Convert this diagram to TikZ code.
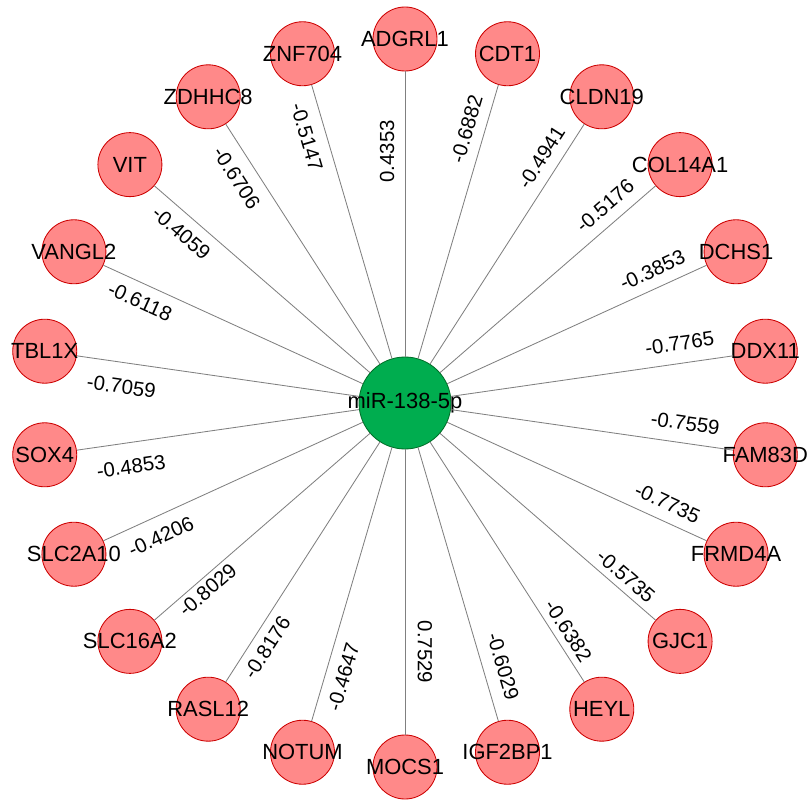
\documentclass[tikz,border=0pt]{standalone}
\usepackage{xcolor}
\usepackage{tikz}
\usepackage{fontspec}
\setmainfont{Liberation Sans}
\usetikzlibrary{shapes.geometric, arrows}
\definecolor{genefill}{RGB}{255, 137, 137}
\definecolor{genedraw}{RGB}{204, 0, 0}
\definecolor{mirfill}{RGB}{0, 173, 79}
\definecolor{mirdraw}{RGB}{0, 110, 40}
\definecolor{linkcolor}{RGB}{128, 128, 128}
\newcommand{\gname}[1]{\makebox[0pt]{#1}}
\tikzstyle{gene} = [circle, minimum size=1.6cm, inner sep=0pt, draw=genedraw, fill=genefill, line width=0.6pt, font=\fontsize{15.6}{18}\selectfont]
\tikzstyle{hub} = [circle, minimum size=2.3cm, inner sep=0pt, draw=mirdraw, fill=mirfill, line width=0.6pt, font=\fontsize{15.6}{18}\selectfont]
\tikzstyle{link} = [draw=linkcolor, line width=0.6pt]
\tikzstyle{wlabel} = [inner sep=0pt, font=\fontsize{14.5}{17}\selectfont]

\begin{document}
\begin{tikzpicture}

\useasboundingbox (-10.125,-9.925) rectangle (10.075,10.075);

% miRNA
\node (mir) [hub] at (0,0) {\gname{miR-138-5p}};

% Cibles (sens horaire)
\node (adgrl1) [gene] at (90:9.1) {\gname{ADGRL1}};
\node (cdt1) [gene] at (73.64:9.1) {\gname{CDT1}};
\node (cldn19) [gene] at (57.27:9.1) {\gname{CLDN19}};
\node (col14a1) [gene] at (40.91:9.1) {\gname{COL14A1}};
\node (dchs1) [gene] at (24.55:9.1) {\gname{DCHS1}};
\node (ddx11) [gene] at (8.18:9.1) {\gname{DDX11}};
\node (fam83d) [gene] at (-8.18:9.1) {\gname{FAM83D}};
\node (frmd4a) [gene] at (-24.55:9.1) {\gname{FRMD4A}};
\node (gjc1) [gene] at (-40.91:9.1) {\gname{GJC1}};
\node (heyl) [gene] at (-57.27:9.1) {\gname{HEYL}};
\node (igf2bp1) [gene] at (-73.64:9.1) {\gname{IGF2BP1}};
\node (mocs1) [gene] at (-90:9.1) {\gname{MOCS1}};
\node (notum) [gene] at (-106.36:9.1) {\gname{NOTUM}};
\node (rasl12) [gene] at (-122.73:9.1) {\gname{RASL12}};
\node (slc16a2) [gene] at (-139.09:9.1) {\gname{SLC16A2}};
\node (slc2a10) [gene] at (-155.45:9.1) {\gname{SLC2A10}};
\node (sox4) [gene] at (-171.82:9.1) {\gname{SOX4}};
\node (tbl1x) [gene] at (171.82:9.1) {\gname{TBL1X}};
\node (vangl2) [gene] at (155.45:9.1) {\gname{VANGL2}};
\node (vit) [gene] at (139.09:9.1) {\gname{VIT}};
\node (zdhhc8) [gene] at (122.73:9.1) {\gname{ZDHHC8}};
\node (znf704) [gene] at (106.36:9.1) {\gname{ZNF704}};

% Liens et corrélations
\draw [link] (mir) -- (adgrl1) node [wlabel, pos=0.72, rotate=90, yshift=0.45cm] {0.4353};
\draw [link] (mir) -- (cdt1) node [wlabel, pos=0.82, rotate=73.64, yshift=0.45cm] {-0.6882};
\draw [link] (mir) -- (cldn19) node [wlabel, pos=0.82, rotate=57.27, yshift=0.45cm] {-0.4941};
\draw [link] (mir) -- (col14a1) node [wlabel, pos=0.82, rotate=40.91, yshift=0.45cm] {-0.5176};
\draw [link] (mir) -- (dchs1) node [wlabel, pos=0.82, rotate=24.55, yshift=0.45cm] {-0.3853};
\draw [link] (mir) -- (ddx11) node [wlabel, pos=0.82, rotate=8.18, yshift=0.5cm] {-0.7765};
\draw [link] (mir) -- (fam83d) node [wlabel, pos=0.82, rotate=-8.18, yshift=0.5cm] {-0.7559};
\draw [link] (mir) -- (frmd4a) node [wlabel, pos=0.82, rotate=-24.55, yshift=0.45cm] {-0.7735};
\draw [link] (mir) -- (gjc1) node [wlabel, pos=0.82, rotate=-40.91, yshift=0.35cm] {-0.5735};
\draw [link] (mir) -- (heyl) node [wlabel, pos=0.82, rotate=-57.27, yshift=0.35cm] {-0.6382};
\draw [link] (mir) -- (igf2bp1) node [wlabel, pos=0.82, rotate=-73.64, yshift=0.5cm] {-0.6029};
\draw [link] (mir) -- (mocs1) node [wlabel, pos=0.71, rotate=-90, yshift=0.5cm] {0.7529};
\draw [link] (mir) -- (notum) node [wlabel, pos=0.82, rotate=-106.36+180, yshift=-0.45cm] {-0.4647};
\draw [link] (mir) -- (rasl12) node [wlabel, pos=0.82, rotate=-122.73+180, yshift=-0.4cm] {-0.8176};
\draw [link] (mir) -- (slc16a2) node [wlabel, pos=0.79, rotate=-139.09+180, yshift=-0.3cm] {-0.8029};
\draw [link] (mir) -- (slc2a10) node [wlabel, pos=0.81, rotate=-155.45+180, yshift=-0.5cm] {-0.4206};
\draw [link] (mir) -- (sox4) node [wlabel, pos=0.82, rotate=-171.82+180, yshift=-0.6cm] {-0.4853};
\draw [link] (mir) -- (tbl1x) node [wlabel, pos=0.83, rotate=171.82-180, yshift=-0.6cm] {-0.7059};
\draw [link] (mir) -- (vangl2) node [wlabel, pos=0.83, rotate=155.45-180, yshift=-0.45cm] {-0.6118};
\draw [link] (mir) -- (vit) node [wlabel, pos=0.82, rotate=139.09-180, yshift=-0.45cm] {-0.4059};
\draw [link] (mir) -- (zdhhc8) node [wlabel, pos=0.82, rotate=122.73-180, yshift=-0.5cm] {-0.6706};
\draw [link] (mir) -- (znf704) node [wlabel, pos=0.83, rotate=106.36-180, yshift=-0.48cm] {-0.5147};

\end{tikzpicture}
\end{document}
